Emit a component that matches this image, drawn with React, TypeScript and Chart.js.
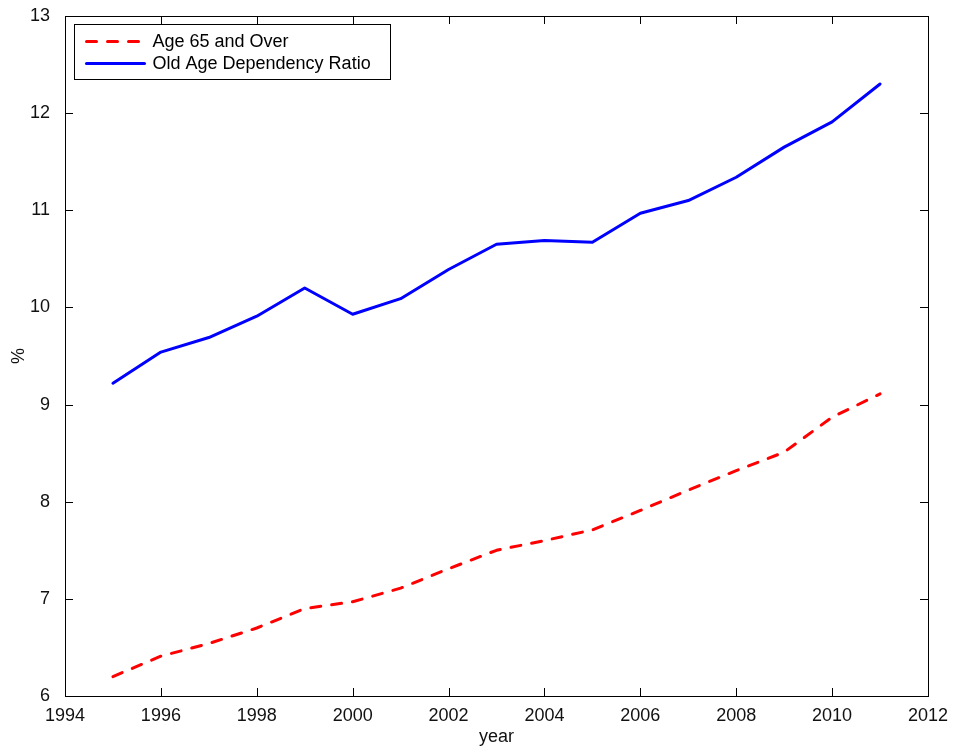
import React, { useEffect, useRef } from "react";
import { Chart, registerables } from "chart.js";

Chart.register(...registerables);

const years = [1995, 1996, 1997, 1998, 1999, 2000, 2001, 2002, 2003, 2004, 2005, 2006, 2007, 2008, 2009, 2010, 2011];
const age65AndOver = [6.2, 6.41, 6.54, 6.7, 6.9, 6.97, 7.11, 7.31, 7.5, 7.6, 7.71, 7.91, 8.12, 8.32, 8.51, 8.87, 9.11];
const oldAgeDependency = [9.22, 9.54, 9.69, 9.91, 10.2, 9.93, 10.09, 10.39, 10.65, 10.69, 10.67, 10.97, 11.1, 11.34, 11.65, 11.91, 12.3];
const xTickValues = [1994, 1996, 1998, 2000, 2002, 2004, 2006, 2008, 2010, 2012];
const yTickValues = [6, 7, 8, 9, 10, 11, 12, 13];
const seriesLabels = ["Age 65 and Over", "Old Age Dependency Ratio"];
const xTitle = "year";
const yTitle = "%";

const FONT = "'Liberation Sans', Arial, Helvetica, sans-serif";
const FONT_SIZE = 18;

const framePlugin = {
  id: "matlabFrame",
  afterDraw(chart: any) {
    const { ctx, chartArea } = chart;
    const { left, right, top, bottom } = chartArea;
    const xs = chart.scales.x;
    const ys = chart.scales.y;
    ctx.save();
    ctx.strokeStyle = "#000";
    ctx.lineWidth = 1;
    const tl = 8;
    ctx.beginPath();
    xTickValues.forEach((v) => {
      const px = Math.round(xs.getPixelForValue(v)) + 0.5;
      ctx.moveTo(px, bottom);
      ctx.lineTo(px, bottom - tl);
      ctx.moveTo(px, top);
      ctx.lineTo(px, top + tl);
    });
    yTickValues.forEach((v) => {
      const py = Math.round(ys.getPixelForValue(v)) + 0.5;
      ctx.moveTo(left, py);
      ctx.lineTo(left + tl, py);
      ctx.moveTo(right, py);
      ctx.lineTo(right - tl, py);
    });
    ctx.stroke();
    ctx.strokeRect(Math.round(left) + 0.5, Math.round(top) + 0.5, Math.round(right - left), Math.round(bottom - top));

    // legend
    const lx = Math.round(left) + 9.5;
    const ly = Math.round(top) + 8.5;
    const lw = 316;
    const lh = 55;
    ctx.fillStyle = "#fff";
    ctx.fillRect(lx, ly, lw, lh);
    ctx.strokeStyle = "#000";
    ctx.lineWidth = 1;
    ctx.strokeRect(lx, ly, lw, lh);
    ctx.font = `${FONT_SIZE}px ${FONT}`;
    ctx.textBaseline = "middle";
    ctx.textAlign = "left";
    chart.data.datasets.forEach((ds: any, i: number) => {
      const ry = ly + 17 + i * 22;
      ctx.beginPath();
      ctx.strokeStyle = ds.borderColor;
      ctx.lineWidth = ds.borderWidth;
      ctx.lineCap = ds.borderCapStyle || "butt";
      ctx.setLineDash(ds.borderDash || []);
      ctx.moveTo(lx + 12, ry);
      ctx.lineTo(lx + 70, ry);
      ctx.stroke();
      ctx.setLineDash([]);
      ctx.fillStyle = "#000";
      ctx.fillText(ds.label, lx + 78, ry + 1);
    });
    ctx.restore();
  },
};

export default function App() {
  const ref = useRef<HTMLCanvasElement | null>(null);
  useEffect(() => {
    document.body.style.margin = "0";
    const canvas = ref.current;
    if (!canvas) return;
    const toPoints = (vals: number[]) => years.map((y, i) => ({ x: y, y: vals[i] }));
    const chart = new Chart(canvas, {
      type: "line",
      data: {
        datasets: [
          {
            label: seriesLabels[0],
            data: toPoints(age65AndOver),
            borderColor: "#ff0000",
            backgroundColor: "#ff0000",
            borderWidth: 3,
            borderDash: [10, 11],
            borderCapStyle: "round",
            borderJoinStyle: "round",
            pointRadius: 0,
            tension: 0,
            fill: false,
          },
          {
            label: seriesLabels[1],
            data: toPoints(oldAgeDependency),
            borderColor: "#0000ff",
            backgroundColor: "#0000ff",
            borderWidth: 3,
            borderCapStyle: "round",
            borderJoinStyle: "round",
            pointRadius: 0,
            tension: 0,
            fill: false,
          },
        ],
      },
      options: {
        animation: false,
        responsive: false,
        maintainAspectRatio: false,
        layout: { padding: { left: 0, right: 26, top: 16, bottom: 0 } },
        plugins: { legend: { display: false }, tooltip: { enabled: false } },
        font: { family: FONT, size: FONT_SIZE },
        scales: {
          x: {
            type: "linear",
            min: 1994,
            max: 2012,
            grid: { display: false },
            border: { display: false },
            afterBuildTicks: (s: any) => {
              s.ticks = xTickValues.map((v) => ({ value: v }));
            },
            afterFit: (s: any) => {
              s.height = 56;
              s.paddingLeft = 0;
              s.paddingRight = 0;
            },
            ticks: {
              color: "#111",
              padding: 1,
              maxRotation: 0,
              autoSkip: false,
              font: { family: FONT, size: FONT_SIZE },
              callback: (v: any) => String(v),
            },
            title: {
              display: true,
              text: xTitle,
              color: "#111",
              font: { family: FONT, size: FONT_SIZE },
              padding: { top: 0, bottom: 4 },
            },
          },
          y: {
            type: "linear",
            min: 6,
            max: 13,
            grid: { display: false },
            border: { display: false },
            afterBuildTicks: (s: any) => {
              s.ticks = yTickValues.map((v) => ({ value: v }));
            },
            afterFit: (s: any) => {
              s.width = 65;
              s.paddingTop = 0;
              s.paddingBottom = 0;
            },
            ticks: {
              color: "#111",
              padding: 7,
              autoSkip: false,
              font: { family: FONT, size: FONT_SIZE },
              callback: (v: any) => String(v),
            },
            title: {
              display: true,
              text: yTitle,
              color: "#111",
              font: { family: FONT, size: FONT_SIZE },
              padding: { top: 8, bottom: 0 },
            },
          },
        },
      },
      plugins: [framePlugin],
    } as any);
    return () => chart.destroy();
  }, []);
  return (
    <div style={{ width: 954, height: 752, background: "#fff" }}>
      <canvas ref={ref} width={954} height={752} style={{ display: "block" }} />
    </div>
  );
}
